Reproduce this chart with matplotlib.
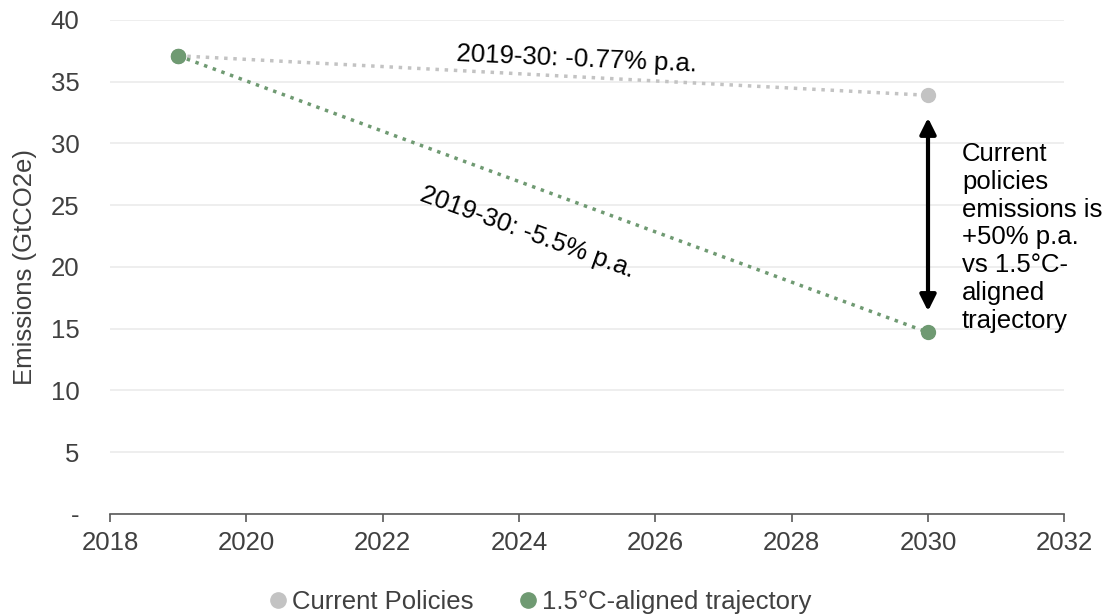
import matplotlib
matplotlib.use("Agg")
import matplotlib.pyplot as plt
from matplotlib.ticker import FuncFormatter

plt.rcParams['font.family'] = ['Liberation Sans', 'DejaVu Sans']

years = [2019, 2030]
current_policies = [37.1, 33.9]
aligned_15c = [37.1, 14.7]
series_labels = ['Current Policies', '1.5°C-aligned trajectory']

grey = '#c3c3c3'
green = '#6f9a72'
text_col = '#404040'
fs = 18.5

fig = plt.figure(figsize=(11.11, 6.16), dpi=100)
ax = fig.add_axes([0.099, 0.1656, 0.859, 0.802])

ax.plot(years, current_policies, color=grey, linestyle=':', linewidth=2.5,
        marker='o', markersize=10, label=series_labels[0], zorder=3)
ax.plot(years, aligned_15c, color=green, linestyle=':', linewidth=2.5,
        marker='o', markersize=10, label=series_labels[1], zorder=3)
# 2019 start point is drawn green on top
ax.plot(years[0], aligned_15c[0], 'o', color=green, markersize=10, zorder=4)

ax.set_xlim(2018, 2032)
ax.set_ylim(0, 40)
ax.set_xticks(range(2018, 2033, 2))
ax.set_yticks(range(0, 41, 5))
ax.yaxis.set_major_formatter(FuncFormatter(lambda v, p: '-' if v == 0 else f'{v:.0f}'))

ax.grid(axis='y', color='#ebebeb', linewidth=1.2)
ax.set_axisbelow(True)
for s in ['left', 'right', 'top']:
    ax.spines[s].set_visible(False)
ax.spines['bottom'].set_color('#595959')
ax.spines['bottom'].set_linewidth(1.2)
ax.tick_params(axis='y', length=0, labelsize=fs, colors=text_col, pad=22)
ax.tick_params(axis='x', length=6, width=1.2, color='#595959', labelsize=fs,
               labelcolor=text_col, pad=6)
ax.set_ylabel('Emissions (GtCO2e)', fontsize=fs, color=text_col, labelpad=10)

ax.text(2024.85, 36.85, '2019-30: -0.77% p.a.', fontsize=fs, rotation=-2.5,
        ha='center', va='center')
ax.text(2024.12, 22.8, '2019-30: -5.5% p.a.', fontsize=fs, rotation=-20,
        ha='center', va='center', rotation_mode='anchor')

ax.annotate('', xy=(2030, current_policies[1] - 1.6), xytext=(2030, aligned_15c[1] + 1.5),
            arrowprops=dict(arrowstyle='<|-|>', color='black', lw=3,
                            mutation_scale=24))
ax.text(2030.5, 22.4, 'Current\npolicies\nemissions is\n+50% p.a.\nvs 1.5°C-\naligned\ntrajectory',
        fontsize=fs, ha='left', va='center', linespacing=1.2)

fig.legend(loc='lower center', bbox_to_anchor=(0.487, -0.034), ncol=2, frameon=False,
           fontsize=fs, handlelength=0.6, handletextpad=0.25, columnspacing=1.8,
           labelcolor=text_col, numpoints=1)
leg = fig.legends[0]
for h in leg.legend_handles:
    h.set_linestyle('None')
    h.set_markersize(11)

fig.savefig('out.png', dpi=100)
